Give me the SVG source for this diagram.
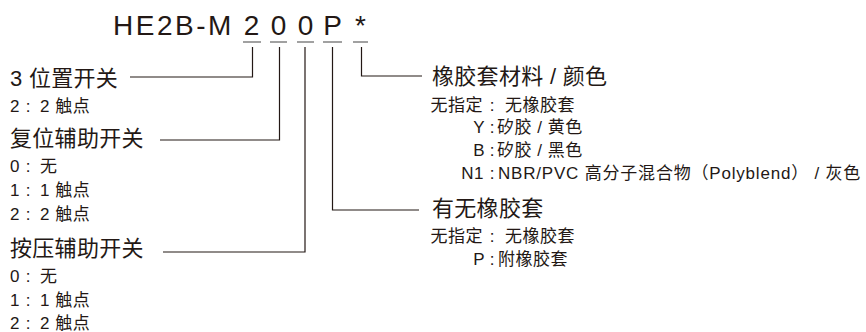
<svg xmlns="http://www.w3.org/2000/svg" width="866" height="332" viewBox="0 0 866 332">
  <style>
    text { font-family: "Liberation Sans", "Noto Sans CJK SC", sans-serif; fill: #231815; }
    .title { font-size: 28px; }
    .head { font-size: 22px; letter-spacing: 0.3px; }
    .item { font-size: 17px; letter-spacing: 0.5px; }
    .c { letter-spacing: 0; }
    .line { fill: none; stroke: #231815; stroke-width: 1.2; }
    .ul { fill: none; stroke: #444; stroke-width: 1.2; }
  </style>
  <rect width="866" height="332" fill="#ffffff"/>

  <g id="model-code">
    <text class="title" x="113" y="35" style="letter-spacing:2.5px">HE2B-M</text>
    <text class="title" x="251.5" y="35" text-anchor="middle">2</text>
    <text class="title" x="278.5" y="35" text-anchor="middle">0</text>
    <text class="title" x="305.5" y="35" text-anchor="middle">0</text>
    <text class="title" x="332.5" y="35" text-anchor="middle">P</text>
    <text class="title" x="360.5" y="35" text-anchor="middle">*</text>
    <path class="ul" d="M243,42H261M270,42H287M297,42H314M323,42H342M353,42H368"/>
  </g>

  <g id="connectors">
    <path class="line" d="M130,77H252.5V47"/>
    <path class="line" d="M160,140H279.5V47"/>
    <path class="line" d="M163,252H305V47"/>
    <path class="line" d="M419,210H332.5V47"/>
    <path class="line" d="M422,76H361.5V47"/>
  </g>

  <g id="node-3pos">
    <text class="head" x="10" y="85.5">3 位置开关</text>
    <text class="item" y="112"><tspan x="10">2</tspan><tspan class="c" x="28" text-anchor="middle">:</tspan><tspan x="40">2 触点</tspan></text>
  </g>

  <g id="node-reset">
    <text class="head" x="10" y="145.5">复位辅助开关</text>
    <text class="item" y="172"><tspan x="10">0</tspan><tspan class="c" x="28" text-anchor="middle">:</tspan><tspan x="40">无</tspan></text>
    <text class="item" y="196"><tspan x="10">1</tspan><tspan class="c" x="28" text-anchor="middle">:</tspan><tspan x="40">1 触点</tspan></text>
    <text class="item" y="220"><tspan x="10">2</tspan><tspan class="c" x="28" text-anchor="middle">:</tspan><tspan x="40">2 触点</tspan></text>
  </g>

  <g id="node-push">
    <text class="head" x="10" y="256">按压辅助开关</text>
    <text class="item" y="282"><tspan x="10">0</tspan><tspan class="c" x="28" text-anchor="middle">:</tspan><tspan x="40">无</tspan></text>
    <text class="item" y="305.5"><tspan x="10">1</tspan><tspan class="c" x="28" text-anchor="middle">:</tspan><tspan x="40">1 触点</tspan></text>
    <text class="item" y="329"><tspan x="10">2</tspan><tspan class="c" x="28" text-anchor="middle">:</tspan><tspan x="40">2 触点</tspan></text>
  </g>

  <g id="node-boot-material">
    <text class="head" x="432" y="84">橡胶套材料 / 颜色</text>
    <text class="item" y="111"><tspan x="483" text-anchor="end">无指定</tspan><tspan class="c" x="492" text-anchor="middle">:</tspan><tspan x="505">无橡胶套</tspan></text>
    <text class="item" y="133"><tspan x="485" text-anchor="end">Y</tspan><tspan class="c" x="492" text-anchor="middle">:</tspan><tspan x="497">矽胶 / 黄色</tspan></text>
    <text class="item" y="156"><tspan x="485" text-anchor="end">B</tspan><tspan class="c" x="492" text-anchor="middle">:</tspan><tspan x="497">矽胶 / 黑色</tspan></text>
    <text class="item" y="179"><tspan x="484" text-anchor="end">N1</tspan><tspan class="c" x="492" text-anchor="middle">:</tspan><tspan x="498" style="letter-spacing:0.8px">NBR/PVC 高分子混合物（Polyblend） / 灰色</tspan></text>
  </g>

  <g id="node-boot">
    <text class="head" x="432" y="215.5">有无橡胶套</text>
    <text class="item" y="242"><tspan x="483" text-anchor="end">无指定</tspan><tspan class="c" x="492" text-anchor="middle">:</tspan><tspan x="505">无橡胶套</tspan></text>
    <text class="item" y="265"><tspan x="485" text-anchor="end">P</tspan><tspan class="c" x="492" text-anchor="middle">:</tspan><tspan x="498">附橡胶套</tspan></text>
  </g>
</svg>
